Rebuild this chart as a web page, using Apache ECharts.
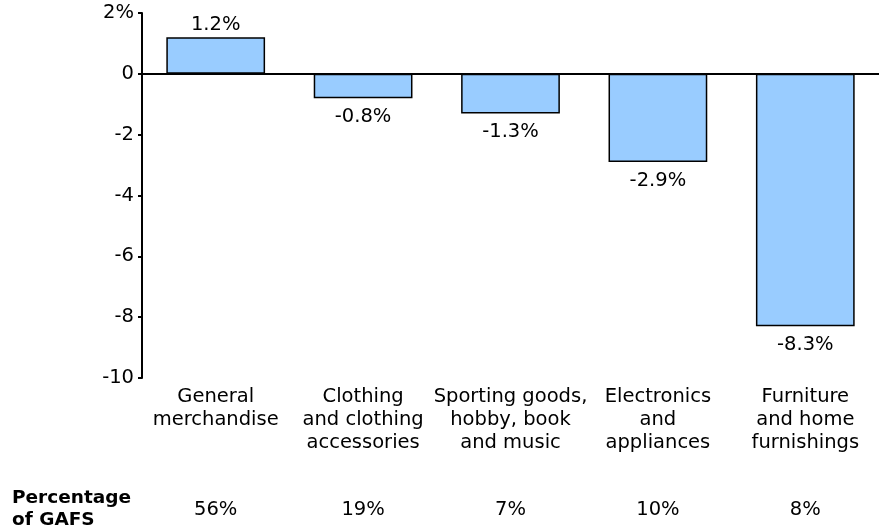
<!DOCTYPE html>
<html>
<head>
<meta charset="utf-8">
<script src="https://cdn.jsdelivr.net/npm/echarts@6/dist/echarts.min.js"></script>
<style>
  html, body { margin: 0; padding: 0; background: #fff; }
  #chart { width: 879px; height: 531px; }
</style>
</head>
<body>
<div id="chart"></div>
<script>
// Store types
const categories = [
  'General\nmerchandise',
  'Clothing\nand clothing\naccessories',
  'Sporting goods,\nhobby, book\nand music',
  'Electronics\nand\nappliances',
  'Furniture\nand home\nfurnishings'
];
// Percent change per store type
const changes = [1.2, -0.8, -1.3, -2.9, -8.3];
// Share of GAFS sales per store type
const gafsShares = ['56%', '19%', '7%', '10%', '8%'];
// Value axis range
const yMin = -10, yMax = 2, yStep = 2;

const FONT = '"DejaVu Sans", Verdana, sans-serif';
const FS = 19.5;

const chart = echarts.init(document.getElementById('chart'), null, { renderer: 'canvas' });

chart.setOption({
  animation: false,
  textStyle: { fontFamily: FONT },
  grid: { left: 142, width: 740, top: 13, bottom: 153, containLabel: false },
  xAxis: [
    {
      // zero baseline
      type: 'category',
      data: categories,
      axisLine: { onZero: true, lineStyle: { color: '#000', width: 2 } },
      axisTick: { show: false },
      axisLabel: { show: false },
      splitLine: { show: false }
    },
    {
      // category names under the plot
      type: 'category',
      data: categories,
      position: 'bottom',
      axisLine: { show: false, onZero: false },
      axisTick: { show: false },
      axisLabel: {
        interval: 0,
        hideOverlap: false,
        margin: 7,
        color: '#000',
        fontFamily: FONT,
        fontSize: FS,
        lineHeight: 23,
        align: 'center'
      }
    },
    {
      // share of GAFS row
      type: 'category',
      data: gafsShares,
      position: 'bottom',
      offset: 114,
      axisLine: { show: false, onZero: false },
      axisTick: { show: false },
      axisLabel: {
        interval: 0,
        margin: 6,
        color: '#000',
        fontFamily: FONT,
        fontSize: FS,
        lineHeight: 23
      }
    }
  ],
  yAxis: {
    type: 'value',
    min: yMin,
    max: yMax,
    interval: yStep,
    axisLine: { show: true, lineStyle: { color: '#000', width: 2 } },
    axisTick: { show: true, inside: false, length: 4, lineStyle: { color: '#000', width: 2 } },
    splitLine: { show: false },
    axisLabel: {
      margin: 8,
      padding: [6, 0, 0, 0],
      color: '#000',
      fontFamily: FONT,
      fontSize: FS,
      formatter: v => (v === yMax ? v + '%' : String(v))
    }
  },
  series: [{
    type: 'bar',
    xAxisIndex: 0,
    data: changes.map(v => ({
      value: v,
      label: v < 0 ? { position: 'bottom', distance: 9 } : { position: 'top', distance: 2 }
    })),
    barCategoryGap: '33%',
    itemStyle: { color: '#99CCFF', borderColor: '#000', borderWidth: 1.5 },
    label: {
      show: true,
      color: '#000',
      fontFamily: FONT,
      fontSize: FS,
      formatter: p => p.value.toFixed(1) + '%'
    }
  }],
  graphic: [{
    type: 'text',
    left: 12,
    top: 487,
    style: {
      text: 'Percentage\nof GAFS',
      font: 'bold 18.5px ' + FONT,
      lineHeight: 22,
      fill: '#000'
    }
  }]
});
</script>
</body>
</html>
